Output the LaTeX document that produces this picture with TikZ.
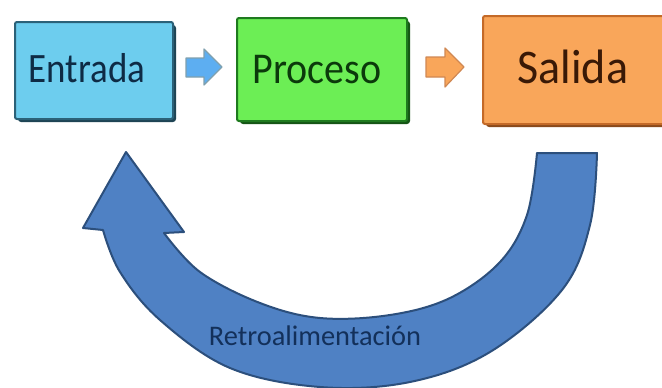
\documentclass[tikz,border=0pt]{standalone}
\usepackage{fontspec}
\setmainfont{Carlito}
\usetikzlibrary{calc}
\definecolor{eFill}{HTML}{6DCDEE}
\definecolor{eLine}{HTML}{2B6178}
\definecolor{eText}{HTML}{0E2B45}
\definecolor{pFill}{HTML}{6CEE55}
\definecolor{pLine}{HTML}{1E7A1E}
\definecolor{pText}{HTML}{0B3A0B}
\definecolor{sFill}{HTML}{F9A65A}
\definecolor{sLine}{HTML}{C46A28}
\definecolor{sText}{HTML}{3A1906}
\definecolor{bFill}{HTML}{4F81C4}
\definecolor{bLine}{HTML}{2C4F7C}
\definecolor{rText}{HTML}{13305A}
\begin{document}
\begin{tikzpicture}[x=1pt,y=-1pt,
  boxstyle/.style={draw, line width=2pt, rounded corners=2pt},
  shadowbox/.style={rounded corners=3pt},
  blockarrow/.style={draw, line width=1.2pt, line join=round},
  label/.style={anchor=base, inner sep=0pt}]
\useasboundingbox (0,0) rectangle (662,388);
\fill[white] (0,0) rectangle (662,388);
% boxes with shadows
\fill[shadowbox, fill=eLine!70!black] (18,25) rectangle (176,122);
\node[boxstyle, draw=eLine, fill=eFill, minimum width=158pt, minimum height=97pt, anchor=north west, inner sep=0pt] (e) at (14,21) {};
\node[label, text=eText, font=\fontsize{37}{40}\selectfont] (et) at (87,82) {\scalebox{1}[1.13]{Entrada}};
\fill[shadowbox, fill=pLine!70!black] (240,21) rectangle (410,124);
\node[boxstyle, draw=pLine, fill=pFill, minimum width=170pt, minimum height=103pt, anchor=north west, inner sep=0pt] (p) at (236,17) {};
\node[label, text=pText, font=\fontsize{40}{44}\selectfont] (pt) at (317,83) {\scalebox{1}[1.1]{Proceso}};
\fill[shadowbox, fill=sLine!70!black] (486,19) rectangle (670,127);
\node[boxstyle, draw=sLine, fill=sFill, minimum width=190pt, minimum height=108pt, anchor=north west, inner sep=0pt] (s) at (482,15) {};
\node[label, text=sText, font=\fontsize{46}{48}\selectfont] (st) at (573,83) {\scalebox{1}[1.05]{Salida}};
% small block arrows
\draw[blockarrow, draw=eLine!60, fill=eFill!85!blue] (186,58) -- (204,58) -- (204,49) -- (222,67) -- (204,85) -- (204,77) -- (186,77) -- cycle;
\draw[blockarrow, draw=sLine!80, fill=sFill] (426,57) -- (445,57) -- (445,48) -- (464,67) -- (445,87) -- (445,77) -- (426,77) -- cycle;
% feedback arrow
\draw[line width=2pt, draw=bLine, fill=bFill, line join=round]
  (597,153) -- plot[smooth, tension=0.6] coordinates {(597,153) (590,225) (562,290) (490,352) (410,382) (320,387) (230,368) (160,320) (120,272) (103,230)}
  -- (83,228) -- (126,152) -- (184,232) -- (164,233)
  -- plot[smooth, tension=0.6] coordinates {(164,233) (200,272) (260,303) (320,318) (390,315) (450,298) (500,262) (527,215) (537,153)}
  -- cycle;
\node[label, text=rText, font=\fontsize{28.4}{30}\selectfont] (r) at (315,345) {Retroalimentación};
\end{tikzpicture}
\end{document}
